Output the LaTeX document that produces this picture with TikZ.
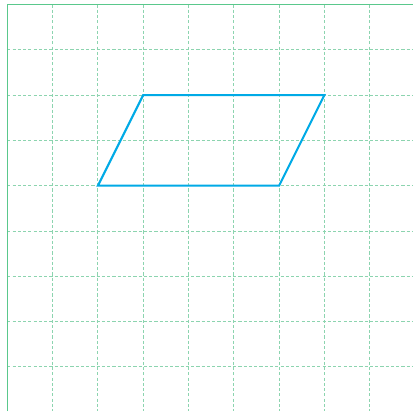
\documentclass[tikz,border=0pt]{standalone}
\usepackage{tikz}
\definecolor{gridgreen}{RGB}{140,212,175}
\definecolor{edgegreen}{RGB}{90,200,140}
\definecolor{shapeblue}{RGB}{0,170,230}

\begin{document}
\begin{tikzpicture}[x=1cm,y=1cm]
\useasboundingbox (-0.161,0.099) rectangle (8.956,-8.974);
\fill[white] (-0.161,0.099) rectangle (8.956,-8.974);
\foreach \i in {1,...,8} {
  \draw[gridgreen,line width=0.6pt,dash pattern=on 2pt off 1.3pt] (\i,0) -- (\i,-8.974);
  \draw[gridgreen,line width=0.6pt,dash pattern=on 2pt off 1.3pt] (0,-\i) -- (8.956,-\i);
}
\draw[edgegreen,line width=0.7pt] (0,-8.974) -- (0,0) -- (8.956,0);
\draw[shapeblue,line width=1.3pt,line join=miter] (2,-4) -- (6,-4) -- (7,-2) -- (3,-2) -- cycle;
\end{tikzpicture}
\end{document}
